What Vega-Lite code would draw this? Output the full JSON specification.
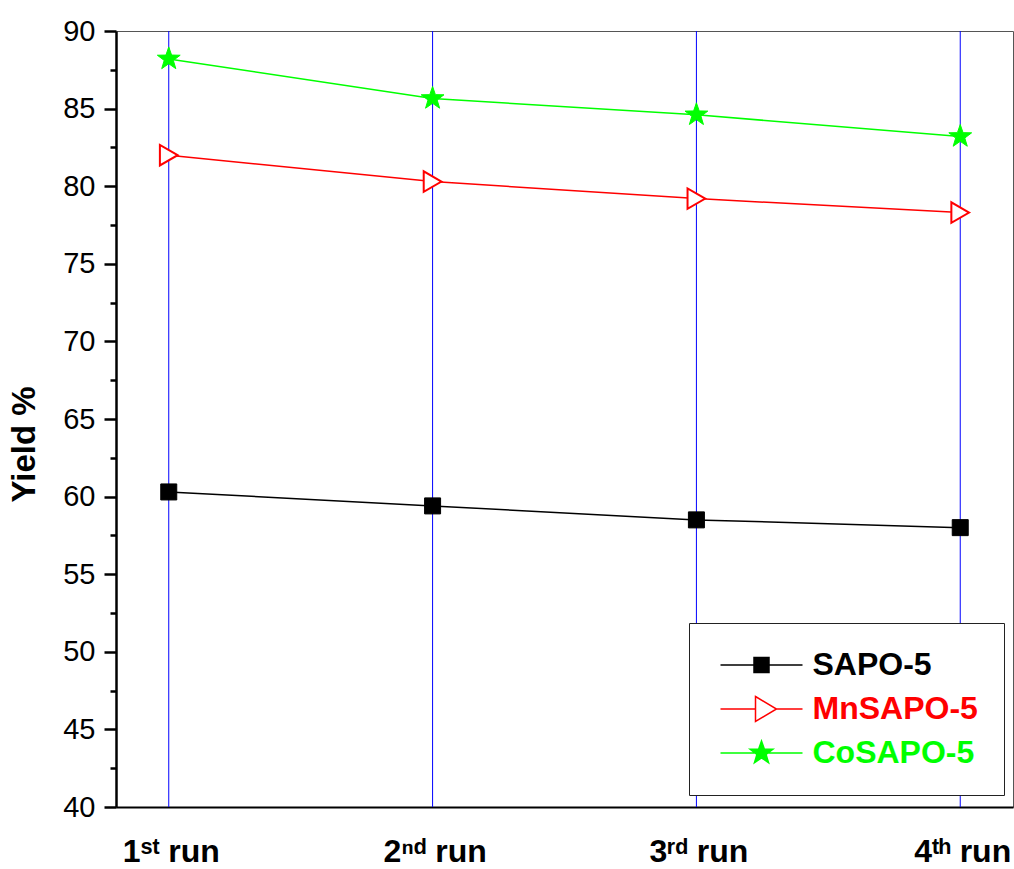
{
  "$schema": "https://vega.github.io/schema/vega-lite/v6.json",
  "width": 897,
  "height": 776,
  "autosize": {"type": "none"},
  "padding": {"left": 116, "top": 31, "right": 1, "bottom": 62},
  "background": "white",
  "config": {"view": {"stroke": "#555", "strokeWidth": 1}, "font": "Liberation Sans"},
  "data": {
    "values": [
      {"run": 1, "series": "SAPO-5", "yield": 60.3},
      {"run": 2, "series": "SAPO-5", "yield": 59.4},
      {"run": 3, "series": "SAPO-5", "yield": 58.5},
      {"run": 4, "series": "SAPO-5", "yield": 58.0},
      {"run": 1, "series": "MnSAPO-5", "yield": 82.0},
      {"run": 2, "series": "MnSAPO-5", "yield": 80.3},
      {"run": 3, "series": "MnSAPO-5", "yield": 79.2},
      {"run": 4, "series": "MnSAPO-5", "yield": 78.3},
      {"run": 1, "series": "CoSAPO-5", "yield": 88.2},
      {"run": 2, "series": "CoSAPO-5", "yield": 85.65},
      {"run": 3, "series": "CoSAPO-5", "yield": 84.6},
      {"run": 4, "series": "CoSAPO-5", "yield": 83.2}
    ]
  },
  "encoding": {
    "x": {
      "field": "run", "type": "quantitative",
      "scale": {"domain": [0.8, 4.2], "nice": false, "zero": false},
      "axis": {
        "title": null, "values": [1, 2, 3, 4],
        "labelExpr": "datum.value == 1 ? '1ˢᵗ run' : datum.value == 2 ? '2ⁿᵈ run' : datum.value == 3 ? '3ʳᵈ run' : '4ᵗʰ run'",
        "labelFontSize": 32, "labelFontWeight": "bold", "labelColor": "black",
        "labelBaseline": "alphabetic", "labelPadding": 54, "labelFlush": false, "labelOffset": 2,
        "ticks": false, "tickSize": 0,
        "domainColor": "black", "domainWidth": 2,
        "grid": false
      }
    },
    "y": {
      "field": "yield", "type": "quantitative",
      "scale": {"domain": [40, 90], "nice": false, "zero": false},
      "axis": {
        "title": "Yield %", "titleFontSize": 33, "titleFontWeight": "bold", "titleColor": "black",
        "titlePadding": 21, "titleY": 413,
        "values": [40, 42.5, 45, 47.5, 50, 52.5, 55, 57.5, 60, 62.5, 65, 67.5, 70, 72.5, 75, 77.5, 80, 82.5, 85, 87.5, 90],
        "labelExpr": "datum.value % 5 === 0 ? datum.label : ''",
        "labelFontSize": 29, "labelColor": "black", "labelPadding": 9,
        "tickSize": {"condition": {"test": "datum.value % 5 === 0", "value": 12}, "value": 6},
        "tickWidth": 2.5, "tickColor": "black",
        "domainColor": "black", "domainWidth": 2.5, "grid": false
      }
    }
  },
  "layer": [
    {
      "transform": [{"filter": "datum.series === 'SAPO-5'"}],
      "mark": {"type": "rule", "color": "#0000ff", "strokeWidth": 1},
      "encoding": {"y": null}
    },
    {
      "mark": {"type": "line", "strokeWidth": 1.5},
      "encoding": {
        "stroke": {
          "field": "series", "type": "nominal",
          "scale": {"domain": ["SAPO-5", "MnSAPO-5", "CoSAPO-5"], "range": ["#000000", "#ff0000", "#00ff00"]},
          "legend": {
            "title": null, "orient": "none", "legendX": 573, "legendY": 592,
            "strokeColor": "#222", "fillColor": "white", "padding": 26,
            "labelFont": "Liberation Sans", "labelFontSize": 32, "labelFontWeight": "bold", "labelLimit": 400,
            "symbolSize": 400, "symbolStrokeWidth": 1.5, "symbolOffset": 30.5, "labelOffset": 35,
            "rowPadding": 12,
            "encode": {
              "symbols": {
                "update": {
                  "shape": {"signal": "datum.value === 'SAPO-5' ? 'M-4.1,0H4.1M-0.75,-0.75H0.75V0.75H-0.75Z' : datum.value === 'MnSAPO-5' ? 'M-4.1,0H-0.6M1.5,0H4.1M-0.6,-1.25L1.5,0L-0.6,1.25Z' : 'M-4.1,0H4.1M0,-1.2L0.282,-0.388L1.141,-0.371L0.457,0.148L0.705,0.971L0,0.48L-0.705,0.971L-0.457,0.148L-1.141,-0.371L-0.282,-0.388Z'"},
                  "fill": {"signal": "datum.value === 'SAPO-5' ? '#000000' : datum.value === 'MnSAPO-5' ? '#ffffff' : '#00ff00'"},
                  "stroke": {"signal": "datum.value === 'SAPO-5' ? '#000000' : datum.value === 'MnSAPO-5' ? '#ff0000' : '#00ff00'"},
                  "opacity": {"value": 1}
                }
              },
              "labels": {
                "update": {
                  "fill": {"signal": "datum.label === 'SAPO-5' ? '#000000' : datum.label === 'MnSAPO-5' ? '#ff0000' : '#00ff00'"}
                }
              }
            }
          }
        }
      }
    },
    {
      "transform": [{"filter": "datum.series === 'SAPO-5'"}],
      "mark": {"type": "point", "shape": "square", "size": 256, "filled": true, "fill": "#000000", "stroke": "#000000", "strokeWidth": 1, "opacity": 1}
    },
    {
      "transform": [{"filter": "datum.series === 'MnSAPO-5'"}],
      "mark": {"type": "point", "shape": "triangle-right", "size": 420, "filled": false, "fill": "#ffffff", "fillOpacity": 1, "stroke": "#ff0000", "strokeWidth": 2, "opacity": 1}
    },
    {
      "transform": [{"filter": "datum.series === 'CoSAPO-5'"}],
      "mark": {"type": "point", "shape": "M0,-1.2L0.282,-0.388L1.141,-0.371L0.457,0.148L0.705,0.971L0,0.48L-0.705,0.971L-0.457,0.148L-1.141,-0.371L-0.282,-0.388Z", "size": 400, "filled": true, "fill": "#00ff00", "stroke": "#00ff00", "strokeWidth": 1, "opacity": 1}
    }
  ]
}
